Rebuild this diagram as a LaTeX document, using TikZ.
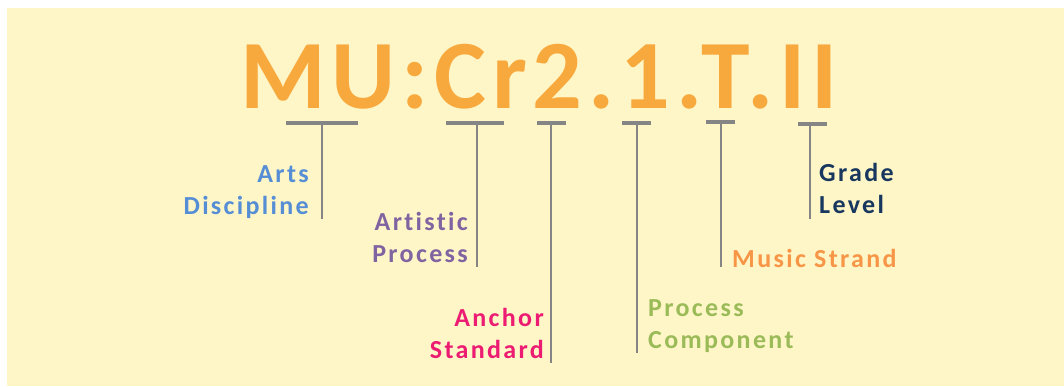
\documentclass[tikz,border=0pt]{standalone}
\usepackage{fontspec}
\setmainfont{Carlito}
\newfontfamily\titlefont{Carlito}[LetterSpace=6,RawFeature=-liga]
\newfontfamily\labelfont{Carlito}[LetterSpace=9,RawFeature=-liga]
\definecolor{bgyellow}{HTML}{FFF6C8}
\definecolor{titleorange}{HTML}{F8A93D}
\definecolor{bargray}{HTML}{858585}
\definecolor{lblblue}{HTML}{558ED5}
\definecolor{lblpurple}{HTML}{8064A2}
\definecolor{lblpink}{HTML}{EC1C73}
\definecolor{lblgreen}{HTML}{9BBB59}
\definecolor{lblorange}{HTML}{F79646}
\definecolor{lblnavy}{HTML}{17375E}
\tikzset{
  codetitle/.style={inner sep=0pt, font=\titlefont\bfseries\fontsize{98}{98}\selectfont, text=titleorange},
  lbl/.style={inner sep=0pt, font=\labelfont\bfseries\fontsize{26}{32}\selectfont},
  bar/.style={draw=bargray, line width=4pt},
  stem/.style={draw=bargray, line width=1.4pt},
}
\begin{document}
\begin{tikzpicture}[x=1pt,y=-1pt]
\useasboundingbox (0,0) rectangle (1064,386);
\fill[bgyellow] (7,8) rectangle (1064,386);
\node[codetitle, anchor=base west] (code) at (240,108) {MU:Cr2.1.T.II};
% bars
\coordinate (b1l) at (286,123); \coordinate (b1r) at (358,123);
\coordinate (b2l) at (446,123); \coordinate (b2r) at (504,123);
\coordinate (b3l) at (537,123); \coordinate (b3r) at (566,123);
\coordinate (b4l) at (622,123); \coordinate (b4r) at (651,123);
\coordinate (b5l) at (706,122); \coordinate (b5r) at (735,122);
\coordinate (b6l) at (798,124); \coordinate (b6r) at (827,124);
\coordinate (s1t) at (322,123); \coordinate (s1b) at (322,219);
\coordinate (s2t) at (477,123); \coordinate (s2b) at (477,267);
\coordinate (s3t) at (551,123); \coordinate (s3b) at (551,363);
\coordinate (s4t) at (637,123); \coordinate (s4b) at (637,353);
\coordinate (s5t) at (721,122); \coordinate (s5b) at (721,267);
\coordinate (s6t) at (810,124); \coordinate (s6b) at (810,219);
\draw[bar] (b1l) -- (b1r);
\draw[bar] (b2l) -- (b2r);
\draw[bar] (b3l) -- (b3r);
\draw[bar] (b4l) -- (b4r);
\draw[bar] (b5l) -- (b5r);
\draw[bar] (b6l) -- (b6r);
\draw[stem] (s1t) -- (s1b);
\draw[stem] (s2t) -- (s2b);
\draw[stem] (s3t) -- (s3b);
\draw[stem] (s4t) -- (s4b);
\draw[stem] (s5t) -- (s5b);
\draw[stem] (s6t) -- (s6b);
% labels (base anchor = baseline of the last line)
\node[lbl, text=lblblue, align=right, anchor=base east] (arts) at (309,214) {Arts\\Discipline};
\node[lbl, text=lblpurple, align=right, anchor=base east] (artistic) at (468,262) {Artistic\\Process};
\node[lbl, text=lblpink, align=right, anchor=base east] (anchor) at (544,358) {Anchor\\Standard};
\node[lbl, text=lblgreen, align=left, anchor=base west] (process) at (648,348) {Process\\Component};
\node[lbl, text=lblorange, anchor=base west] (strand) at (732,267) {Music Strand};
\node[lbl, text=lblnavy, align=left, anchor=base west] (grade) at (819,213) {Grade\\Level};
\end{tikzpicture}
\end{document}
